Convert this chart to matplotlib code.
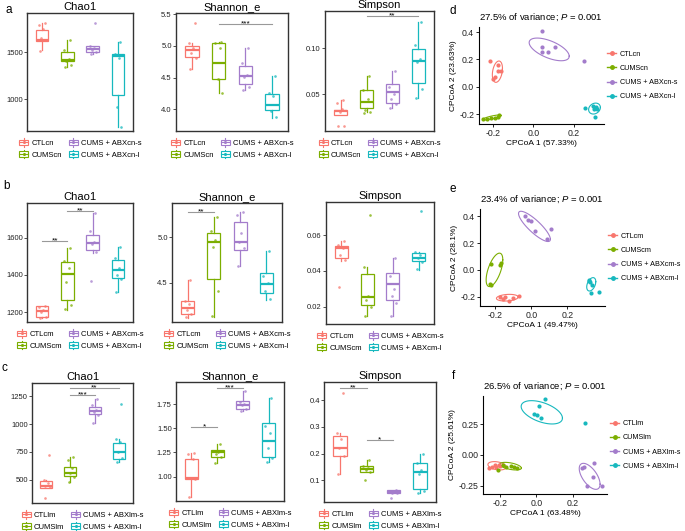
import numpy as np
import matplotlib
matplotlib.use("Agg")
import matplotlib.pyplot as plt
from matplotlib.patches import Patch, Rectangle
from matplotlib.lines import Line2D
from matplotlib.legend_handler import HandlerBase

plt.rcParams["font.family"] = ["Liberation Sans", "DejaVu Sans"]
plt.rcParams["axes.unicode_minus"] = False
plt.rcParams["mathtext.fontset"] = "custom"
plt.rcParams["mathtext.rm"] = "Liberation Sans"
plt.rcParams["mathtext.it"] = "Liberation Sans:italic"

# -----------------------------
# Data
# -----------------------------
groups_cn = ["CTLcn", "CUMScn", "CUMS + ABXcn-s", "CUMS + ABXcn-l"]
groups_cm = ["CTLcm", "CUMScm", "CUMS + ABXcm-s", "CUMS + ABXcm-l"]
groups_lm = ["CTLlm", "CUMSlm", "CUMS + ABXlm-s", "CUMS + ABXlm-l"]
colors = ["#F8766D", "#7CAE00", "#A37CCB", "#17B8BE"]

metrics = ["Chao1", "Shannon_e", "Simpson"]

# box stats: (lower whisker, q1, median, q3, upper whisker)
a_chao1_box = [(1518, 1617, 1631, 1738, 1809), (1347, 1401, 1418, 1496, 1624),
               (1482, 1496, 1532, 1567, 1570), (705, 1046, 1461, 1482, 1607)]
a_chao1_pts = [[1810, 1785, 1740, 1650, 1625, 1515], [1624, 1518, 1429, 1401, 1365, 1347],
               [1809, 1567, 1543, 1525, 1496, 1482], [1607, 1480, 1436, 922, 705]]
a_shan_box = [(4.63, 4.83, 4.936, 5.0, 5.04), (4.26, 4.48, 4.73, 5.04, 5.06),
              (4.31, 4.40, 4.53, 4.68, 4.96), (3.856, 3.98, 4.07, 4.24, 4.52)]
a_shan_pts = [[5.36, 5.04, 4.96, 4.89, 4.81, 4.63], [5.06, 5.04, 4.96, 4.48, 4.26],
              [4.96, 4.73, 4.54, 4.51, 4.35, 4.31], [4.52, 4.26, 4.20, 3.97, 3.87]]
a_simp_box = [(0.0276, 0.0276, 0.0319, 0.033, 0.0438), (0.0312, 0.0348, 0.042, 0.0547, 0.07),
              (0.0348, 0.041, 0.0529, 0.061, 0.0754), (0.046, 0.0627, 0.0867, 0.099, 0.129)]
a_simp_pts = [[0.044, 0.041, 0.034, 0.031, 0.016, 0.016], [0.070, 0.055, 0.045, 0.033, 0.031, 0.030],
              [0.075, 0.058, 0.050, 0.045, 0.039, 0.035], [0.129, 0.104, 0.088, 0.085, 0.056, 0.046]]

b_chao1_box = [(1170, 1173, 1205, 1231, 1231), (1213, 1263, 1404, 1470, 1548),
               (1519, 1533, 1573, 1618, 1735), (1308, 1386, 1429, 1483, 1551)]
b_chao1_pts = [[1230, 1228, 1210, 1200, 1175, 1170], [1548, 1478, 1440, 1360, 1240, 1218],
               [1735, 1640, 1580, 1570, 1525, 1366], [1551, 1490, 1440, 1400, 1380, 1308]]
b_shan_box = [(4.115, 4.152, 4.226, 4.30, 4.53), (4.12, 4.537, 4.945, 5.048, 5.226),
              (4.685, 4.863, 4.948, 5.17, 5.28), (4.31, 4.382, 4.485, 4.604, 4.85)]
b_shan_pts = [[4.53, 4.30, 4.27, 4.20, 4.15, 4.12], [5.23, 5.07, 4.97, 4.90, 4.41, 4.13],
              [5.28, 5.25, 5.05, 4.95, 4.88, 4.69], [4.85, 4.58, 4.50, 4.41, 4.32]]
b_simp_box = [(0.0457, 0.047, 0.0529, 0.0539, 0.0568), (0.015, 0.0209, 0.0252, 0.0381, 0.0422),
              (0.015, 0.0237, 0.0326, 0.0389, 0.047), (0.0408, 0.0457, 0.047, 0.0498, 0.0507)]
b_simp_pts = [[0.0568, 0.0545, 0.053, 0.049, 0.046, 0.031], [0.0712, 0.042, 0.026, 0.024, 0.020, 0.015],
              [0.047, 0.037, 0.030, 0.026, 0.022, 0.015], [0.0734, 0.0505, 0.049, 0.047, 0.045, 0.041]]

c_chao1_box = [(427, 427, 440, 488, 500), (479, 530, 561, 609, 700),
               (1012, 1091, 1118, 1151, 1226), (659, 689, 750, 834, 862)]
c_chao1_pts = [[720, 500, 470, 440, 430, 335], [700, 680, 600, 555, 520, 480],
               [1226, 1170, 1130, 1110, 1080, 1012], [1183, 862, 840, 750, 690, 659]]
c_shan_box = [(0.79, 0.972, 0.98, 1.18, 1.245), (1.136, 1.198, 1.25, 1.274, 1.337),
              (1.677, 1.705, 1.747, 1.785, 1.886), (1.147, 1.206, 1.366, 1.555, 1.816)]
c_shan_pts = [[1.245, 1.23, 1.18, 0.98, 0.97, 0.79], [1.337, 1.27, 1.25, 1.23, 1.20, 1.136],
              [1.886, 1.78, 1.76, 1.74, 1.70, 1.68], [1.816, 1.53, 1.45, 1.30, 1.19, 1.15]]
c_simp_box = [(0.125, 0.19, 0.222, 0.266, 0.276), (0.131, 0.131, 0.142, 0.153, 0.176),
              (0.05, 0.05, 0.056, 0.062, 0.064), (0.052, 0.068, 0.131, 0.166, 0.2)]
c_simp_pts = [[0.428, 0.276, 0.255, 0.22, 0.19, 0.125], [0.176, 0.152, 0.145, 0.14, 0.132, 0.1],
              [0.064, 0.06, 0.056, 0.053, 0.05, 0.034], [0.2, 0.166, 0.14, 0.125, 0.06, 0.052]]

# significance: (group i, group j, y, label)
a_shan_sig = [(1, 3, 5.34, "***")]
a_simp_sig = [(1, 3, 0.135, "**")]
b_chao1_sig = [(0, 1, 1582, "**"), (1, 2, 1744, "**")]
b_shan_sig = [(0, 1, 5.277, "**")]
c_chao1_sig = [(1, 2, 1262, "***"), (1, 3, 1326, "**")]
c_shan_sig = [(0, 1, 1.513, "*"), (1, 2, 1.92, "***")]
c_simp_sig = [(0, 1, 0.447, "**"), (1, 2, 0.251, "*")]

a_ylims = [(663, 1915), (3.654, 5.52), (0.0102, 0.1406)]
b_ylims = [(1146, 1789), (4.067, 5.38), (0.0103, 0.0786)]
c_ylims = [(288, 1371), (0.745, 1.984), (0.018, 0.469)]
a_yticks = [[1000, 1500], [4.0, 4.5, 5.0, 5.5], [0.05, 0.10]]
b_yticks = [[1200, 1400, 1600], [4.5, 5.0], [0.02, 0.04, 0.06]]
c_yticks = [[500, 750, 1000, 1250], [1.00, 1.25, 1.50, 1.75], [0.1, 0.2, 0.3, 0.4]]

# CPCoA scores
d_x = [[-0.213, -0.175, -0.175, -0.159, -0.192, -0.2], [-0.25, -0.23, -0.21, -0.19, -0.175, -0.17],
       [0.04, 0.04, 0.041, 0.07, 0.106, 0.251], [0.256, 0.293, 0.30, 0.31, 0.315, 0.306]]
d_y = [[0.188, 0.159, 0.117, 0.117, 0.068, 0.054], [-0.24, -0.236, -0.232, -0.228, -0.22, -0.205],
       [0.405, 0.288, 0.254, 0.254, 0.288, 0.19], [-0.158, -0.142, -0.165, -0.15, -0.16, -0.22]]
e_x = [[-0.172, -0.157, -0.144, -0.120, -0.098, -0.070], [-0.221, -0.169, -0.172, -0.23, -0.223],
       [-0.035, -0.02, 0.0, 0.022, 0.09, 0.108], [0.322, 0.325, 0.335, 0.33, 0.376, 0.318]]
e_y = [[-0.2, -0.22, -0.205, -0.233, -0.213, -0.195], [0.045, 0.05, 0.038, -0.105, -0.115],
       [0.405, 0.37, 0.368, 0.293, 0.23, 0.305], [-0.075, -0.092, -0.112, -0.175, -0.163, -0.08]]
f_x = [[-0.26, -0.245, -0.225, -0.22, -0.205, -0.2], [-0.21, -0.185, -0.165, -0.14, -0.12, -0.105],
       [0.248, 0.262, 0.316, 0.308, 0.275, 0.358], [0.046, 0.015, -0.015, 0.004, 0.028, 0.266]]
f_y = [[-0.11, -0.095, -0.08, -0.1, -0.085, -0.09], [-0.12, -0.085, -0.1, -0.09, -0.1, -0.11],
       [-0.109, -0.1, -0.068, -0.177, -0.253, -0.253], [0.454, 0.399, 0.334, 0.326, 0.304, 0.264]]

# ellipses: (cx, cy, half-width x, half-height y, tilt)
d_ell = [(-0.178, 0.11, 0.025, 0.078, 0.3), (-0.205, -0.225, 0.045, 0.018, 0.8),
         (0.078, 0.273, 0.099, 0.083, -0.6), (0.302, -0.16, 0.029, 0.04, 0.2)]
e_ell = [(-0.132, -0.208, 0.06, 0.025, 0.2), (-0.203, 0.0, 0.046, 0.125, 0.6),
         (0.018, 0.325, 0.088, 0.113, -0.85), (0.332, -0.108, 0.025, 0.05, 0.4)]
f_ell = [(-0.215, -0.088, 0.05, 0.034, -0.3), (-0.141, -0.091, 0.059, 0.031, -0.5),
         (0.292, -0.174, 0.057, 0.106, -0.6), (0.03, 0.348, 0.113, 0.095, -0.5)]

d_lims = [(-0.269, 0.349), (-0.273, 0.437)]
e_lims = [(-0.283, 0.408), (-0.27, 0.455)]
f_lims = [(-0.292, 0.387), (-0.318, 0.481)]
d_labels = ("27.5% of variance; $\\mathit{P}$ = 0.001", "CPCoA 1 (57.33%)", "CPCoA 2 (23.63%)")
e_labels = ("23.4% of variance; $\\mathit{P}$ = 0.001", "CPCoA 1 (49.47%)", "CPCoA 2 (28.1%)")
f_labels = ("26.5% of variance; $\\mathit{P}$ = 0.001", "CPCoA 1 (63.48%)", "CPCoA 2 (25.61%)")

W, H = 685, 531
JIT = [0.10, -0.12, 0.05, -0.04, 0.14, -0.08]
FRAME = "#333333"


def px(l, t, r, b):
    return [l / W, 1 - b / H, (r - l) / W, (b - t) / H]


class BoxKey(HandlerBase):
    """Легенда в виде маленького боксплота."""
    def create_artists(self, legend, orig, xd, yd, w, h, fontsize, trans):
        c = orig.get_edgecolor()
        x0, y0 = -xd, -yd
        art = [
            Line2D([x0 + w / 2] * 2, [y0, y0 + h], color=c, lw=0.8, transform=trans),
            Rectangle((x0 + 0.08 * w, y0 + 0.2 * h), 0.84 * w, 0.6 * h,
                      fc="white", ec=c, lw=0.8, transform=trans),
            Line2D([x0 + 0.08 * w, x0 + 0.92 * w], [y0 + h / 2] * 2, color=c, lw=0.8, transform=trans),
            Line2D([x0 + w / 2], [y0 + h / 2], color=c, marker="o", ms=1.2, lw=0, transform=trans),
        ]
        return art


def box_panel(ax, title, box, pts, ylim, yticks, sig, labels):
    for i, (st, p, c) in enumerate(zip(box, pts, colors)):
        lo, q1, med, q3, hi = st
        stats = [dict(whislo=lo, q1=q1, med=med, q3=q3, whishi=hi, fliers=[])]
        ax.bxp(stats, positions=[i + 1], widths=0.5, showfliers=False, showcaps=False,
               patch_artist=True,
               boxprops=dict(facecolor="white", edgecolor=c, lw=0.9),
               whiskerprops=dict(color=c, lw=0.9),
               medianprops=dict(color=c, lw=1.6))
        xs = i + 1 + np.array(JIT[:len(p)])
        ax.plot(xs, p, "o", color=c, ms=1.9, alpha=0.75, mew=0, zorder=4)
    for g1, g2, y, lab in sig:
        ax.plot([g1 + 1, g2 + 1], [y, y], color="#999999", lw=0.8)
        ax.annotate(lab, ((g1 + g2) / 2 + 1, y), xytext=(0, -1.0), textcoords="offset points",
                    ha="center", va="baseline", fontsize=6)
    ax.set_xlim(0.4, 4.6)
    ax.set_ylim(*ylim)
    ax.set_yticks(yticks)
    ax.set_xticks([])
    ax.set_title(title, fontsize=8, pad=2)
    ax.tick_params(axis="y", length=2, width=0.6, color=FRAME, labelsize=5.5,
                   labelcolor="#222222", pad=1)
    for s in ax.spines.values():
        s.set_color(FRAME)
        s.set_linewidth(1.0)
    handles = [Patch(edgecolor=c, facecolor="white") for c in colors]
    ax.legend(handles, labels, handler_map={Patch: BoxKey()}, ncol=2, loc="upper center",
              bbox_to_anchor=(0.5, -0.02), frameon=False, fontsize=5.5,
              handlelength=1.4, handleheight=1.4, handletextpad=0.3,
              columnspacing=0.8, labelspacing=0.35, borderaxespad=0.2)


def ellipse(cx, cy, sx, sy, r):
    t = np.linspace(0, 2 * np.pi, 120)
    return cx + sx * np.cos(t), cy + sy * (r * np.cos(t) + np.sqrt(1 - r * r) * np.sin(t))


def pcoa_panel(ax, xs, ys, ells, lims, texts, yticks, labels):
    title, xl, yl = texts
    for x, y, e, c in zip(xs, ys, ells, colors):
        ax.scatter(x, y, s=9, color=c, zorder=3, linewidths=0)
        ex, ey = ellipse(*e)
        ax.plot(ex, ey, color=c, lw=0.8)
    ax.set_xlim(*lims[0])
    ax.set_ylim(*lims[1])
    ax.set_xticks([-0.2, 0.0, 0.2])
    ax.set_yticks(yticks)
    for s in ["top", "right"]:
        ax.spines[s].set_visible(False)
    for s in ["left", "bottom"]:
        ax.spines[s].set_linewidth(0.8)
    ax.tick_params(length=2, width=0.6, labelsize=6.3, labelcolor="#222222", pad=1.5)
    ax.set_title(title, loc="left", fontsize=6.8, pad=5)
    ax.set_xlabel(xl, fontsize=6, labelpad=1.5)
    ax.set_ylabel(yl, fontsize=6, labelpad=1.5)
    handles = [Line2D([], [], color=c, marker="o", ms=2.5, lw=1.0) for c in colors]
    ax.legend(handles, labels, loc="center left", bbox_to_anchor=(1.0, 0.5), frameon=False,
              fontsize=5.2, handlelength=1.3, handletextpad=0.45, labelspacing=1.0,
              borderaxespad=0.2, borderpad=0.2)


fig = plt.figure(figsize=(W / 100, H / 100), dpi=100)

rows = [
    ([(27, 13, 133, 131), (176, 13, 288, 131), (325, 11, 434, 131)],
     [a_chao1_box, a_shan_box, a_simp_box], [a_chao1_pts, a_shan_pts, a_simp_pts],
     a_ylims, a_yticks, [[], a_shan_sig, a_simp_sig], groups_cn),
    ([(27, 203, 133, 322), (172, 203, 282, 322), (326, 202, 434, 324)],
     [b_chao1_box, b_shan_box, b_simp_box], [b_chao1_pts, b_shan_pts, b_simp_pts],
     b_ylims, b_yticks, [b_chao1_sig, b_shan_sig, []], groups_cm),
    ([(32, 383, 133, 503), (176, 382, 284, 501), (324, 382, 436, 502)],
     [c_chao1_box, c_shan_box, c_simp_box], [c_chao1_pts, c_shan_pts, c_simp_pts],
     c_ylims, c_yticks, [c_chao1_sig, c_shan_sig, c_simp_sig], groups_lm),
]

for rects, boxes, ptss, ylims, yts, sigs, labs in rows:
    for k in range(3):
        ax = fig.add_axes(px(*rects[k]))
        box_panel(ax, metrics[k], boxes[k], ptss[k], ylims[k], yts[k], sigs[k], labs)

pcoa = [
    ((479, 27, 604, 124), d_x, d_y, d_ell, d_lims, d_labels, [-0.2, 0.0, 0.2, 0.4], groups_cn),
    ((480, 209, 605, 306), e_x, e_y, e_ell, e_lims, e_labels, [-0.2, 0.0, 0.2, 0.4], groups_cm),
    ((483, 396, 607, 494), f_x, f_y, f_ell, f_lims, f_labels, [-0.25, 0.0, 0.25], groups_lm),
]
for rect, xs, ys, ells, lims, texts, yts, labs in pcoa:
    ax = fig.add_axes(px(*rect))
    pcoa_panel(ax, xs, ys, ells, lims, texts, yts, labs)

# --- буквы панелей
for lab, x, y in [("a", 5, 4), ("b", 3, 180), ("c", 2, 362),
                  ("d", 449, 5), ("e", 450, 183), ("f", 452, 370)]:
    fig.text(x / W, 1 - y / H, lab, fontsize=8.5, va="top", ha="left")

fig.savefig("out.png", dpi=100)
